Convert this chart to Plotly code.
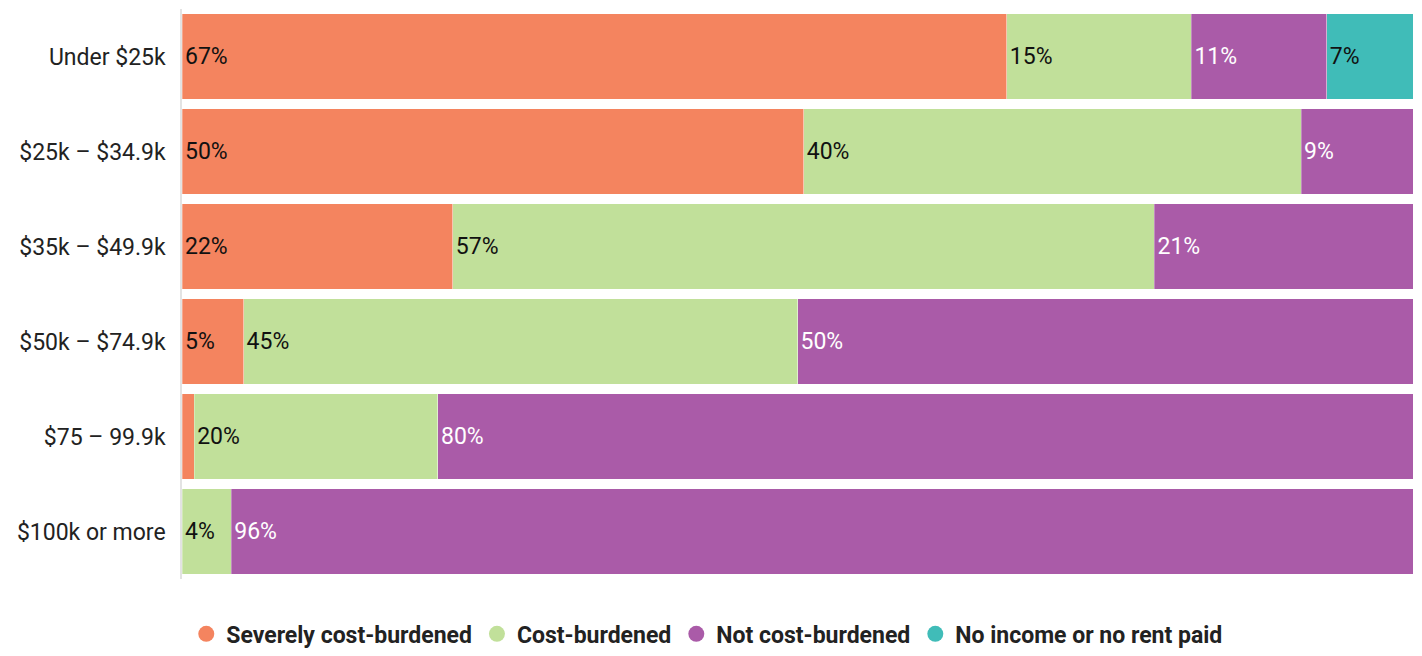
import plotly.graph_objects as go

income_groups = ['Under $25k', '$25k – $34.9k', '$35k – $49.9k',
                 '$50k – $74.9k', '$75 – 99.9k', '$100k or more']

severely = [67, 50, 22, 5, 1, 0]
burdened = [15, 40, 57, 45, 20, 4]
not_burdened = [11, 9, 21, 50, 80, 96]
no_income = [7, 0, 0, 0, 0, 0]

series = [
    ('Severely cost-burdened', severely, '#F4845F', '#111111'),
    ('Cost-burdened', burdened, '#C1E09A', '#111111'),
    ('Not cost-burdened', not_burdened, '#AA5BA8', '#FFFFFF'),
    ('No income or no rent paid', no_income, '#40BCB8', '#111111'),
]

fig = go.Figure()
for name, vals, color, txtcolor in series:
    fig.add_trace(go.Bar(
        y=income_groups,
        x=vals,
        orientation='h',
        name=name,
        marker=dict(color=color, line=dict(color='rgba(255,255,255,0.6)', width=0.5)),
        text=[f'{v}%' if v > 0 else '' for v in vals],
        texttemplate='%{text}',
        textposition='inside',
        insidetextanchor='start',
        textfont=dict(color=txtcolor, size=23, family='Roboto'),
        showlegend=False,
        hoverinfo='skip',
    ))
    # legend entry with round marker
    fig.add_trace(go.Scatter(
        x=[None], y=[None], mode='markers', name=name,
        marker=dict(color=color, size=22, symbol='circle'),
    ))

# page body has an 8px margin, so the figure is sized to fit inside it
fig.update_layout(
    barmode='stack',
    barnorm='percent',
    bargap=0.1,
    width=1406, height=640,
    margin={'l': 174, 'r': 1, 't': 1, 'b': 69},
    plot_bgcolor='white',
    paper_bgcolor='white',
    font=dict(family='Roboto', size=23, color='#222222'),
    uniformtext=dict(minsize=20, mode='hide'),
    legend=dict(
        orientation='h',
        traceorder='normal',
        xref='container', x=0.497, xanchor='center',
        yref='container', y=0.022, yanchor='middle',
        font=dict(size=23, family='Roboto', weight='bold', color='#222222'),
        itemsizing='trace',
    ),
)
fig.update_xaxes(range=[0, 100], visible=False, fixedrange=True)
fig.update_yaxes(autorange='reversed', showline=True, linecolor='#e3e3e3',
                 linewidth=1.5, ticks='', ticklabelstandoff=10, showgrid=False,
                 automargin=False)

fig.write_html("out.html")
